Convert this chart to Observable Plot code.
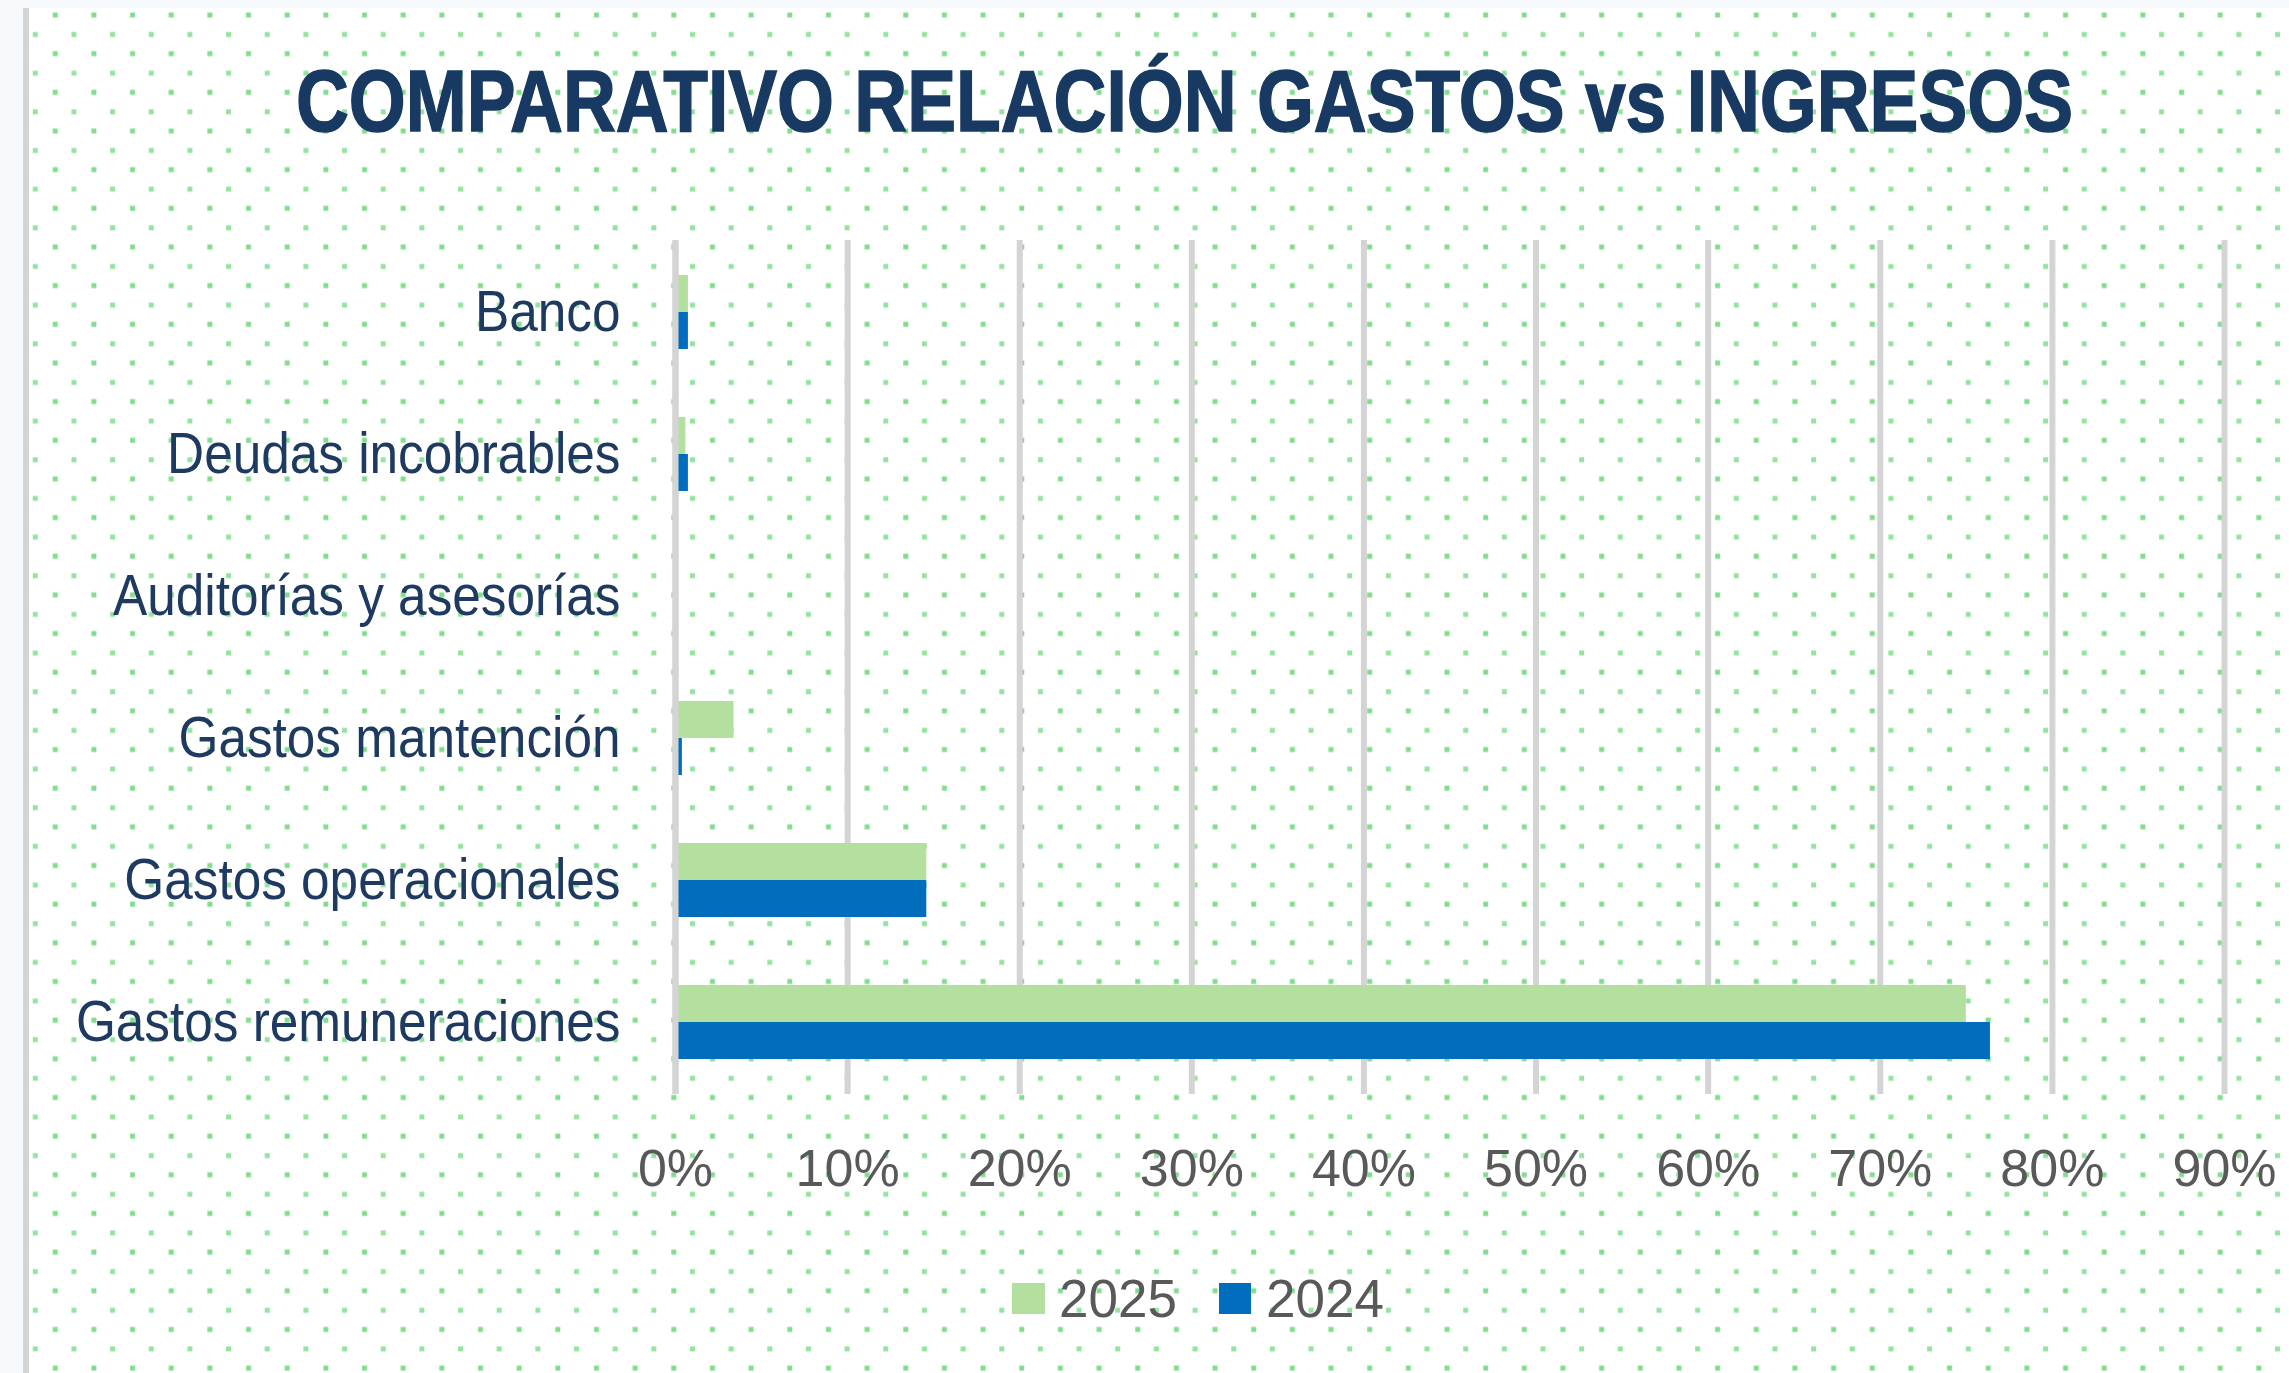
<!DOCTYPE html>
<html>
<head>
<meta charset="utf-8">
<script src="https://cdn.jsdelivr.net/npm/d3@7"></script>
<script src="https://cdn.jsdelivr.net/npm/@observablehq/plot@0.6"></script>
<style>
  html, body { margin: 0; padding: 0; width: 2289px; height: 1373px; overflow: hidden; background: #F7FAFD; }
  #bg { position: absolute; left: 0; top: 0; }
  #title { position: absolute; left: 296px; top: 57px; margin: 0; font-family: "Liberation Sans", Arial, sans-serif;
           font-weight: bold; font-size: 88px; line-height: 88px; color: #183A62; white-space: nowrap;
           -webkit-text-stroke: 1.5px #183A62;
           transform-origin: 0 0; display: inline-block; }
  #chart { position: absolute; left: 0; top: 200px; }
  .lg-sw { position: absolute; }
  .lg-tx { position: absolute; font-family: "Liberation Sans", Arial, sans-serif; font-size: 53px; line-height: 53px; color: #595959; white-space: nowrap; }
</style>
</head>
<body>
<svg id="bg" width="2289" height="1373" xmlns="http://www.w3.org/2000/svg">
  <defs>
    <pattern id="dots" patternUnits="userSpaceOnUse" x="0" y="0" width="38.66" height="38.66">
      <rect x="14.1" y="12.5" width="5" height="5" fill="#80DD8C"/>
      <rect x="32.8" y="32" width="5" height="5" fill="#94E39F"/>
    </pattern>
  </defs>
  <rect x="29" y="8" width="2260" height="1365" fill="#ffffff"/>
  <rect x="29" y="8" width="2260" height="1365" fill="url(#dots)"/>
  <rect x="23" y="8" width="6" height="1365" fill="#D4D4D4"/>
</svg>
<div id="title">COMPARATIVO RELACIÓN GASTOS vs INGRESOS</div>
<div id="chart"></div>
<div id="legend"></div>
<script>
// ---- data ----
const categories = ["Banco", "Deudas incobrables", "Auditorías y asesorías", "Gastos mantención", "Gastos operacionales", "Gastos remuneraciones"];
const years = ["2025", "2024"];
const values2025 = [0.0075, 0.006, 0, 0.034, 0.146, 0.750];
const values2024 = [0.0075, 0.0075, 0, 0.004, 0.146, 0.764];
const xTicks = [0, 0.1, 0.2, 0.3, 0.4, 0.5, 0.6, 0.7, 0.8, 0.9];
const colors = ["#B4E09F", "#006EBD"];

const rows = [];
categories.forEach((c, i) => {
  rows.push({category: c, year: years[0], value: values2025[i]});
  rows.push({category: c, year: years[1], value: values2024[i]});
});

const W = 2289, H = 1010;
const font = '"Liberation Sans", Arial, sans-serif';

const plot = Plot.plot({
  width: W,
  height: H,
  marginLeft: 675,
  marginRight: 65,
  marginTop: 40,
  marginBottom: 116,
  style: {background: "transparent", fontFamily: font, overflow: "visible"},
  x: {domain: [0, 0.9]},
  y: {domain: categories, paddingInner: 0.48, paddingOuter: 0.24},
  color: {domain: years, range: colors},
  marks: [
    Plot.ruleX(xTicks, {stroke: "#D4D4D4", strokeWidth: 6}),
    Plot.barX(rows.filter(d => d.year === years[0]), {x: "value", y: "category", fill: "year", insetBottom: 37}),
    Plot.barX(rows.filter(d => d.year === years[1]), {x: "value", y: "category", fill: "year", insetTop: 37}),
    Plot.ruleX([0], {stroke: "#D4D4D4", strokeWidth: 6}),
    Plot.axisX({ticks: xTicks, tickFormat: d3.format(".0%"), tickSize: 0, tickPadding: 55, fontSize: 52, fill: "#595959", label: null}),
    Plot.axisY({tickSize: 0, tickPadding: 55, fontSize: 57, fill: "#1E3A60", label: null})
  ]
});
document.getElementById("chart").appendChild(plot);

// narrower glyphs for category labels
plot.querySelectorAll('g[aria-label="y-axis tick label"] text').forEach(t => {
  const w = t.getComputedTextLength();
  t.setAttribute("textLength", (w * 0.9).toFixed(1));
  t.setAttribute("lengthAdjust", "spacingAndGlyphs");
});

// title fitted to width
const title = document.getElementById("title");
const tw = title.getBoundingClientRect().width;
title.style.transform = `scaleX(${1777 / tw})`;

// legend
const legend = document.getElementById("legend");
const lg = [
  {sw: [1012, 1283, 33, 31], tx: [1059, 1272]},
  {sw: [1219, 1283, 32, 31], tx: [1266, 1272]}
];
years.forEach((y, i) => {
  const s = document.createElement("div");
  s.className = "lg-sw";
  s.style.left = lg[i].sw[0] + "px"; s.style.top = lg[i].sw[1] + "px";
  s.style.width = lg[i].sw[2] + "px"; s.style.height = lg[i].sw[3] + "px";
  s.style.background = colors[i];
  legend.appendChild(s);
  const t = document.createElement("div");
  t.className = "lg-tx";
  t.style.left = lg[i].tx[0] + "px"; t.style.top = lg[i].tx[1] + "px";
  t.textContent = y;
  legend.appendChild(t);
});
</script>
</body>
</html>
